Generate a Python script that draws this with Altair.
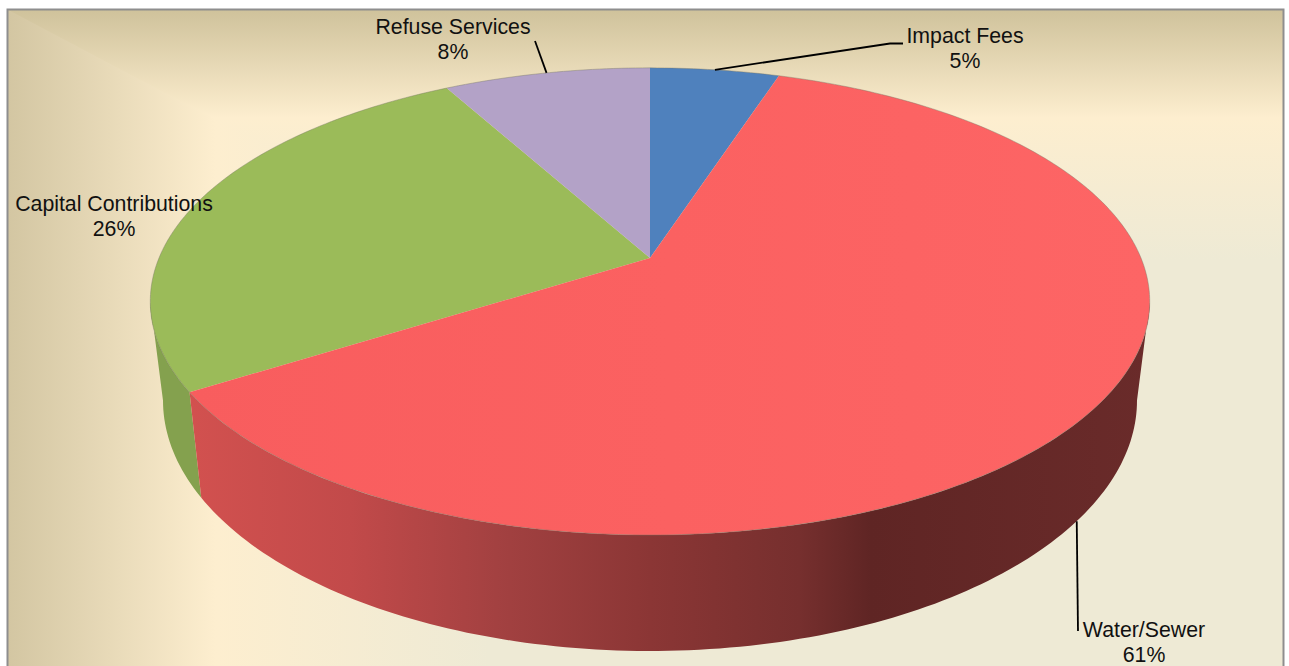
import math
import altair as alt

# Slice shares in percent, in clockwise order from twelve o'clock
categories = ["Impact Fees", "Water/Sewer", "Capital Contributions", "Refuse Services"]
shares = [5, 61, 26, 8]
top_colors = ["#4f81bd", "#fb6161", "#9bbb59", "#b3a2c7"]

W, H = 1289, 666

# Perspective model of the pie: centre of the top disc and of the bottom disc
K = 0.186
TOP = dict(cx=650, cy=258, a=491.0, b=225.5)
BOTTOM = dict(cx=650, cy=353.8, a=478.5, b=241.9)


def rim(disc, deg):
    t = math.radians(deg)
    u, v = math.sin(t), -math.cos(t)
    d = 1 - K * v
    return [disc["cx"] + disc["a"] * u / d, disc["cy"] + disc["b"] * v / d]


def arc(disc, start, end, step=1.0):
    n = max(2, int(abs(end - start) / step))
    return [rim(disc, start + (end - start) * i / n) for i in range(n + 1)]


def feature(ring, **props):
    ring = ring + [ring[0]]
    return {"type": "Feature", "properties": props,
            "geometry": {"type": "Polygon", "coordinates": [ring]}}


def polyline(points):
    return {"type": "Feature", "properties": {},
            "geometry": {"type": "LineString", "coordinates": points}}


def shape(features):
    return alt.Chart(alt.Data(values=features)).project(type="identity", scale=1, translate=[0, 0])


def h_gradient(stops):
    return alt.Gradient(gradient="linear", x1=0, x2=1, y1=0, y2=0,
                        stops=[alt.GradientStop(offset=o, color=c) for o, c in stops])


def v_gradient(stops):
    return alt.Gradient(gradient="linear", x1=0, x2=0, y1=0, y2=1,
                        stops=[alt.GradientStop(offset=o, color=c) for o, c in stops])


# Slice boundaries in degrees
edges = [0]
for s in shares:
    edges.append(edges[-1] + s * 3.6)

# Panel background: a band down the left and a band across the top, mitred at the corner
L, R, T, B = 7.5, 1283.5, 9.5, 672
panel_fill = shape([feature([[L, T], [R, T], [R, B], [L, B]])]).mark_geoshape(
    fill=h_gradient([(0, "#d3c6a2"), (0.163, "#fdeecf"), (0.377, "#eeead5"), (1, "#eeead5")]),
)
top_band = shape([feature([[L, T], [R, T], [R, 260], [480, 260]])]).mark_geoshape(
    fill=v_gradient([(0, "#cfc29b"), (0.433, "#fdeecf"), (1, "#eeead5")]),
)
panel_frame = shape([polyline([[L, B], [L, T], [R, T], [R, B]])]).mark_geoshape(
    filled=False, stroke="#8e8e8e", strokeWidth=2,
)

# Side wall, from the right silhouette round to the left one
right_edge = math.degrees(math.acos(-K))
left_edge = 360 - right_edge
water_end = edges[2]


def wall(start, end):
    return feature(arc(TOP, start, end) + arc(BOTTOM, end, start))


water_wall = shape([wall(right_edge, water_end)]).mark_geoshape(
    fill=h_gradient([(0, "#d2514f"), (0.167, "#c24a4a"), (0.32, "#a34141"), (0.48, "#8b3635"),
                     (0.635, "#762f2e"), (0.71, "#5f2524"), (1, "#6a2b2a")]),
)
green_wall = shape([wall(water_end, left_edge)]).mark_geoshape(fill="#84a14e")

# Top surface of each slice; the large one carries a faint left-to-right sheen
centre = [TOP["cx"], TOP["cy"]]
slices = [feature([centre] + arc(TOP, edges[i], edges[i + 1]), name=categories[i])
          for i in range(len(shares))]
top = shape([f for i, f in enumerate(slices) if i != 1]).mark_geoshape().encode(
    color=alt.Color("properties.name:N", legend=None,
                    scale=alt.Scale(domain=categories, range=top_colors))
)
water_top = shape([slices[1]]).mark_geoshape(
    fill=h_gradient([(0, "#f85d5e"), (0.5, "#fb6161"), (1, "#fd6565")]))
rim_line = shape([polyline(arc(TOP, 0, 360))]).mark_geoshape(
    filled=False, stroke="#777766", strokeWidth=1, opacity=0.4)

# Leader lines run from the middle of a slice's rim to its label
mids = [(edges[i] + edges[i + 1]) / 2 for i in range(len(shares))]
leaders = shape([
    polyline([rim(TOP, mids[0]), [890, 43.5], [903, 43.5]]),
    polyline([rim(BOTTOM, mids[1]), [1078, 631]]),
    polyline([rim(TOP, mids[3]), [535, 41]]),
]).mark_geoshape(filled=False, stroke="#000000", strokeWidth=1.8)

# Two-line labels: name above, percentage below
label_x = [965, 1144, 114, 453]
label_y = [37, 631, 205, 28]
label_rows = []
for i, name in enumerate(categories):
    label_rows.append({"text": name, "lon": label_x[i], "lat": label_y[i]})
    label_rows.append({"text": f"{shares[i]}%", "lon": label_x[i], "lat": label_y[i] + 25})
labels = alt.Chart(alt.Data(values=label_rows)).mark_text(
    font="Liberation Sans", fontSize=21.3, color="#111111", align="center", baseline="middle"
).encode(longitude="lon:Q", latitude="lat:Q", text="text:N").project(
    type="identity", scale=1, translate=[0, 0])

chart = alt.layer(panel_fill, top_band, panel_frame, green_wall, water_wall, top, water_top,
                  rim_line, leaders, labels).properties(
    width=W, height=H, padding=0, background="white", autosize=alt.AutoSizeParams(type="none")
).configure_view(stroke=None)

chart.save("out.html", embed_options={"renderer": "svg", "actions": False})
